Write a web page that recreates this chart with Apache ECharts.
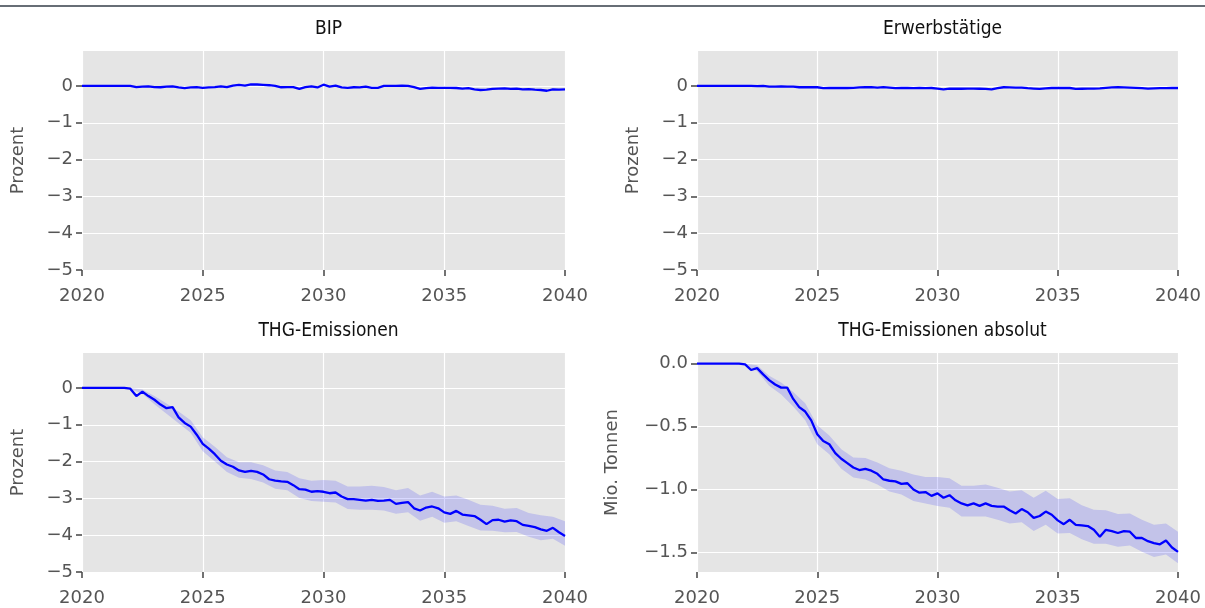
<!DOCTYPE html>
<html>
<head>
<meta charset="utf-8">
<script src="https://cdn.jsdelivr.net/npm/echarts@6/dist/echarts.min.js"></script>
<style>
  html, body { margin: 0; padding: 0; background: #fff; }
  #chart { width: 1205px; height: 608px; }
</style>
</head>
<body>
<div id="chart"></div>
<script>
// panel titles and axis names
const titles = ['BIP', 'Erwerbstätige', 'THG-Emissionen', 'THG-Emissionen absolut']
const yNames = ['Prozent', 'Prozent', 'Prozent', 'Mio. Tonnen']

// axis ticks
const xTicks = [2020, 2025, 2030, 2035, 2040]
const pctTicks = [0, -1, -2, -3, -4, -5]
const tonTicks = [0, -0.5, -1, -1.5]

// quarterly values, 2020Q1 .. 2040Q1 (one row per year)
const bip = [
  0, 0, 0, 0,
  0, 0, 0, 0,
  0, -0.03, -0.02, -0.01,
  -0.03, -0.035, -0.02, -0.01,
  -0.04, -0.06, -0.04, -0.03,
  -0.05, -0.04, -0.03, -0.01,
  -0.03, 0.01, 0.03, 0.01,
  0.045, 0.04, 0.03, 0.02,
  0.0, -0.035, -0.03, -0.03,
  -0.08, -0.03, -0.01, -0.04,
  0.035, -0.02, 0.01, -0.04,
  -0.05, -0.035, -0.04, -0.02,
  -0.05, -0.05, 0.0, 0.0,
  0.0, 0.01, 0.0, -0.03,
  -0.08, -0.06, -0.045, -0.05,
  -0.054, -0.05, -0.055, -0.07,
  -0.06, -0.09, -0.11, -0.1,
  -0.08, -0.07, -0.065, -0.08,
  -0.07, -0.09, -0.085, -0.1,
  -0.11, -0.13, -0.09, -0.1,
  -0.09
]

const erwerb = [
  0, 0, 0, 0,
  0, 0, 0, 0,
  0, 0, -0.005, 0.0,
  -0.02, -0.02, -0.015, -0.02,
  -0.02, -0.035, -0.03, -0.035,
  -0.035, -0.06, -0.055, -0.05,
  -0.055, -0.055, -0.05, -0.04,
  -0.035, -0.03, -0.045, -0.03,
  -0.045, -0.06, -0.055, -0.055,
  -0.06, -0.055, -0.06, -0.055,
  -0.07, -0.09, -0.075, -0.07,
  -0.075, -0.07, -0.07, -0.075,
  -0.08, -0.09, -0.06, -0.035,
  -0.04, -0.045, -0.045, -0.06,
  -0.07, -0.08, -0.065, -0.055,
  -0.055, -0.05, -0.055, -0.08,
  -0.075, -0.07, -0.07, -0.065,
  -0.05, -0.04, -0.035, -0.04,
  -0.045, -0.05, -0.06, -0.07,
  -0.065, -0.06, -0.06, -0.055,
  -0.055
]

const thgPct = [
  0, 0, 0, 0,
  0, 0, 0, 0,
  -0.02, -0.22, -0.10, -0.22,
  -0.32, -0.45, -0.55, -0.52,
  -0.80, -0.95, -1.05, -1.27,
  -1.52, -1.65, -1.80, -1.98,
  -2.08, -2.14, -2.24, -2.28,
  -2.25, -2.28, -2.35, -2.48,
  -2.52, -2.54, -2.55, -2.64,
  -2.75, -2.76, -2.82, -2.80,
  -2.82, -2.86, -2.84, -2.95,
  -3.02, -3.02, -3.04, -3.06,
  -3.04, -3.07, -3.06, -3.04,
  -3.15, -3.12, -3.10, -3.27,
  -3.33, -3.25, -3.22, -3.27,
  -3.38, -3.42, -3.34, -3.44,
  -3.46, -3.48, -3.58, -3.70,
  -3.59, -3.58, -3.63, -3.60,
  -3.62, -3.72, -3.75, -3.78,
  -3.84, -3.88, -3.80, -3.92,
  -4.02
]

const thgAbs = [
  0, 0, 0, 0,
  0, 0, 0, 0,
  -0.005, -0.05, -0.035, -0.085,
  -0.13, -0.165, -0.19, -0.19,
  -0.28, -0.345, -0.38, -0.45,
  -0.56, -0.615, -0.64, -0.71,
  -0.755, -0.79, -0.825, -0.845,
  -0.835, -0.85, -0.875, -0.92,
  -0.93, -0.935, -0.955, -0.95,
  -1.0, -1.025, -1.02, -1.05,
  -1.03, -1.065, -1.045, -1.085,
  -1.11, -1.125, -1.11, -1.13,
  -1.11, -1.13, -1.135, -1.135,
  -1.165, -1.19, -1.155, -1.18,
  -1.225, -1.21, -1.175, -1.2,
  -1.245, -1.275, -1.24, -1.28,
  -1.285, -1.29, -1.32, -1.375,
  -1.32, -1.33, -1.345, -1.33,
  -1.335, -1.385, -1.385, -1.41,
  -1.425, -1.435, -1.405, -1.46,
  -1.495
]

// confidence band, half-yearly 2020.0 .. 2040.0 (one row per year)
const thgPctUpper = [
  0, 0,
  0, 0,
  0, -0.04,
  -0.22, -0.42,
  -0.64, -0.88,
  -1.34, -1.6,
  -1.88, -2.02,
  -2.02, -2.1,
  -2.24, -2.28,
  -2.45, -2.52,
  -2.5, -2.52,
  -2.68, -2.68,
  -2.66, -2.69,
  -2.78, -2.72,
  -2.92, -2.82,
  -2.95, -2.92,
  -3.04, -3.17,
  -3.2, -3.28,
  -3.26, -3.4,
  -3.46, -3.5,
  -3.62
]
const thgPctLower = [
  0, 0,
  0, 0,
  -0.03, -0.16,
  -0.44, -0.7,
  -0.96, -1.22,
  -1.72, -2.0,
  -2.28, -2.44,
  -2.47, -2.57,
  -2.74, -2.78,
  -2.99, -3.07,
  -3.09, -3.11,
  -3.29, -3.31,
  -3.31, -3.33,
  -3.42, -3.38,
  -3.61, -3.5,
  -3.66, -3.62,
  -3.75, -3.87,
  -3.88, -3.92,
  -3.91, -4.04,
  -4.14, -4.1,
  -4.29
]
const thgAbsUpper = [
  0, 0,
  0, 0,
  0, -0.012,
  -0.095, -0.15,
  -0.225, -0.315,
  -0.49, -0.57,
  -0.68, -0.745,
  -0.75, -0.785,
  -0.83, -0.85,
  -0.88, -0.9,
  -0.9, -0.91,
  -0.97, -0.97,
  -0.96, -0.985,
  -1.015, -1.005,
  -1.065, -1.01,
  -1.075, -1.07,
  -1.125, -1.16,
  -1.165, -1.195,
  -1.19, -1.24,
  -1.28, -1.27,
  -1.335
]
const thgAbsLower = [
  0, 0,
  0, 0,
  -0.012, -0.06,
  -0.175, -0.245,
  -0.34, -0.45,
  -0.64, -0.72,
  -0.835, -0.905,
  -0.92, -0.96,
  -1.015, -1.04,
  -1.09, -1.11,
  -1.13, -1.145,
  -1.215, -1.215,
  -1.215, -1.24,
  -1.27, -1.26,
  -1.33, -1.28,
  -1.35, -1.345,
  -1.395, -1.43,
  -1.43, -1.455,
  -1.445, -1.495,
  -1.535, -1.515,
  -1.585
]

const quarters = bip.map((_, i) => 2020 + i / 4)
const halves = thgPctUpper.map((_, i) => 2020 + i / 2)

const grids = [
  { left: 82, top: 51, width: 483, height: 219 },
  { left: 697, top: 51, width: 481, height: 219 },
  { left: 82, top: 353, width: 483, height: 219 },
  { left: 697, top: 353, width: 481, height: 219 }
]

const tickColor = '#555555'
const minus = s => String(s).replace('-', '\u2212')

const xAxes = grids.map((g, i) => ({
  type: 'value', gridIndex: i, min: 2020, max: 2040, interval: 5,
  axisLine: { show: false, onZero: false },
  axisTick: { show: true, length: 6, customValues: xTicks, lineStyle: { color: '#444', width: 1.5 } },
  axisLabel: {
    color: tickColor, fontSize: 18, fontFamily: 'DejaVu Sans', margin: 17,
    customValues: xTicks, formatter: v => String(v)
  },
  splitLine: { show: true, lineStyle: { color: '#ffffff', width: 1.2 } }
}))

const yAxes = grids.map((g, i) => {
  const ton = i === 3
  const ticks = ton ? tonTicks : pctTicks
  return {
    type: 'value', gridIndex: i,
    min: ton ? -1.655 : -5, max: ton ? 0.085 : 0.95,
    name: yNames[i], nameLocation: 'middle', nameRotate: 90,
    nameGap: ton ? 76 : 55,
    nameTextStyle: { color: tickColor, fontSize: 18, fontFamily: 'DejaVu Sans' },
    axisLine: { show: false, onZero: false },
    axisTick: { show: true, length: 6, customValues: ticks, lineStyle: { color: '#444', width: 1.5 } },
    axisLabel: {
      color: tickColor, fontSize: 18, fontFamily: 'DejaVu Sans', margin: 9,
      customValues: ticks,
      formatter: v => minus(ton ? v.toFixed(1) : String(Math.round(v)))
    },
    splitLine: { show: true, lineStyle: { color: '#ffffff', width: 1.2 } }
  }
})

function band(idx, xs, lower, upper) {
  return {
    type: 'custom', xAxisIndex: idx, yAxisIndex: idx, silent: true, z: 1,
    data: [[2030, lower[20]]],
    renderItem: (params, api) => {
      const pts = []
      for (let i = 0; i < xs.length; i++) pts.push(api.coord([xs[i], upper[i]]))
      for (let i = xs.length - 1; i >= 0; i--) pts.push(api.coord([xs[i], lower[i]]))
      return { type: 'polygon', shape: { points: pts }, style: { fill: 'rgba(0, 0, 255, 0.15)' } }
    }
  }
}

function line(idx, ys) {
  return {
    type: 'line', xAxisIndex: idx, yAxisIndex: idx, z: 3,
    data: ys.map((v, i) => [quarters[i], v]),
    showSymbol: false, silent: true,
    lineStyle: { color: '#0000ff', width: 2.3 }
  }
}

const chart = echarts.init(document.getElementById('chart'))
chart.setOption({
  animation: false,
  backgroundColor: '#ffffff',
  graphic: [{
    type: 'rect', shape: { x: 0, y: 5, width: 1205, height: 2 },
    style: { fill: '#676e76' }, silent: true
  }],
  title: titles.map((t, i) => ({
    text: t,
    left: grids[i].left + grids[i].width / 2,
    top: i < 2 ? 15 : 317,
    textAlign: 'center',
    textStyle: { color: '#111', fontSize: 19, fontWeight: 'normal', fontFamily: 'DejaVu Sans Condensed' }
  })),
  grid: grids.map(g => ({ ...g, show: true, backgroundColor: '#e5e5e5', borderWidth: 0, containLabel: false })),
  xAxis: xAxes,
  yAxis: yAxes,
  series: [
    band(2, halves, thgPctLower, thgPctUpper),
    band(3, halves, thgAbsLower, thgAbsUpper),
    line(0, bip),
    line(1, erwerb),
    line(2, thgPct),
    line(3, thgAbs)
  ]
})
</script>
</body>
</html>
